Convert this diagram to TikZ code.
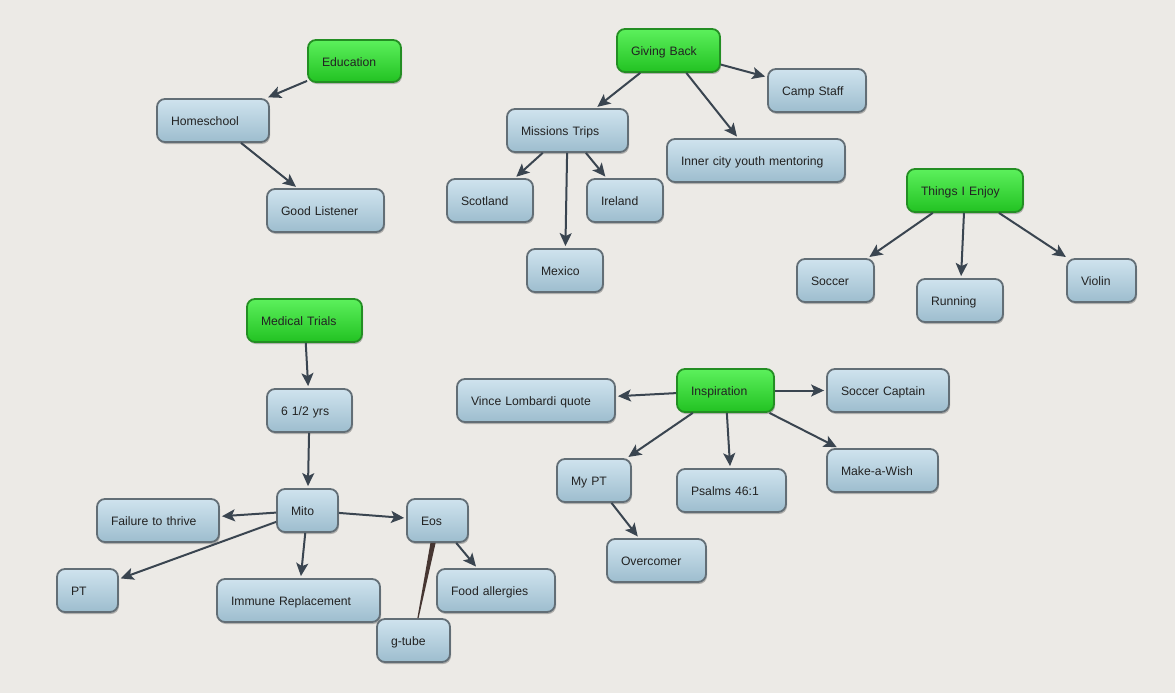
\documentclass[tikz,border=0pt]{standalone}
\usepackage{fontspec}
\setmainfont{Liberation Sans}
\usetikzlibrary{arrows.meta,shadows,calc}
\definecolor{bgcol}{HTML}{ECEAE6}
\definecolor{bluetop}{HTML}{CFE3EE}
\definecolor{bluebot}{HTML}{9DBDCE}
\definecolor{blueedge}{HTML}{626E76}
\definecolor{greentop}{HTML}{5CF05C}
\definecolor{greenbot}{HTML}{22C222}
\definecolor{greenedge}{HTML}{238E23}
\definecolor{arrcol}{HTML}{3A4550}
\definecolor{txtcol}{HTML}{222222}
\definecolor{tubecol}{HTML}{463632}
\tikzset{
  boxbase/.style={rectangle, rounded corners=8pt, line width=1.8pt, inner ysep=0pt,
    inner xsep=14pt, align=left, text=txtcol, text height=11pt, text depth=0.3pt,
    font=\fontsize{12.2}{14}\selectfont,
    drop shadow={shadow xshift=1pt, shadow yshift=-2pt, opacity=0.25, fill=black}},
  bluebox/.style={boxbase, draw=blueedge, top color=bluetop, bottom color=bluebot},
  greenbox/.style={boxbase, draw=greenedge, top color=greentop, bottom color=greenbot},
  arr/.style={draw=arrcol, line width=2pt, shorten >=2pt,
    -{Stealth[length=13pt,width=12pt,inset=3pt]}}
}
\newcommand\bx[7]{%
  \pgfmathsetmacro\boxtw{#4-#2-28}%
  \pgfmathsetmacro\boxcx{(#2+#4)/2}%
  \pgfmathsetmacro\boxcy{(#3+#5)/2}%
  \node[#6, minimum height={#5-#3}, text width=\boxtw pt] (#1) at (\boxcx,\boxcy) {#7};}
\begin{document}
\begin{tikzpicture}[x=1pt,y=-1pt]
\fill[bgcol] (0,0) rectangle (1175,693);
\useasboundingbox (0,0) rectangle (1175,693);
% Education
\bx{edu}{308}{40}{401}{82}{greenbox}{Education}
\bx{home}{157}{99}{269}{142}{bluebox}{Homeschool}
\bx{good}{267}{189}{384}{232}{bluebox}{Good Listener}
% Giving Back
\bx{give}{617}{29}{720}{72}{greenbox}{Giving Back}
\bx{camp}{768}{69}{866}{112}{bluebox}{Camp Staff}
\bx{miss}{507}{109}{628}{152}{bluebox}{Missions Trips}
\bx{inner}{667}{139}{845}{182}{bluebox}{Inner city youth mentoring}
\bx{scot}{447}{179}{533}{222}{bluebox}{Scotland}
\bx{irel}{587}{179}{663}{222}{bluebox}{Ireland}
\bx{mex}{527}{249}{603}{292}{bluebox}{Mexico}
% Things I Enjoy
\bx{enjoy}{907}{169}{1023}{212}{greenbox}{Things I Enjoy}
\bx{soccer}{797}{259}{874}{302}{bluebox}{Soccer}
\bx{run}{917}{279}{1003}{322}{bluebox}{Running}
\bx{violin}{1067}{259}{1136}{302}{bluebox}{Violin}
% Medical Trials
\bx{med}{247}{299}{362}{342}{greenbox}{Medical Trials}
\bx{yrs}{267}{389}{352}{432}{bluebox}{6 1/2 yrs}
\bx{mito}{277}{489}{338}{532}{bluebox}{Mito}
\bx{fail}{97}{499}{219}{542}{bluebox}{Failure to thrive}
\bx{eos}{407}{499}{468}{542}{bluebox}{Eos}
\bx{pt}{57}{569}{118}{612}{bluebox}{PT}
\bx{imm}{217}{579}{380}{622}{bluebox}{Immune Replacement}
\bx{food}{437}{569}{555}{612}{bluebox}{Food allergies}
\bx{gtube}{377}{619}{450}{662}{bluebox}{g-tube}
% Inspiration
\bx{insp}{677}{369}{774}{412}{greenbox}{Inspiration}
\bx{vince}{457}{379}{615}{422}{bluebox}{Vince Lombardi quote}
\bx{capt}{827}{369}{949}{412}{bluebox}{Soccer Captain}
\bx{mypt}{557}{459}{631}{502}{bluebox}{My PT}
\bx{psalm}{677}{469}{786}{512}{bluebox}{Psalms 46:1}
\bx{wish}{827}{449}{938}{492}{bluebox}{Make-a-Wish}
\bx{over}{607}{539}{706}{582}{bluebox}{Overcomer}
% connectors
\draw[arr] (edu) -- (home);
\draw[arr] (home) -- (good);
\draw[arr] (give) -- (miss);
\draw[arr] (give) -- (camp);
\draw[arr] (give) -- (inner);
\draw[arr] (miss) -- (scot);
\draw[arr] (miss) -- (irel);
\draw[arr] (miss) -- (mex);
\draw[arr] (enjoy) -- (soccer);
\draw[arr] (enjoy) -- (run);
\draw[arr] (enjoy) -- (violin);
\draw[arr] (med) -- (yrs);
\draw[arr] (yrs) -- (mito);
\draw[arr] (mito) -- (fail);
\draw[arr] (mito) -- (pt);
\draw[arr] (mito) -- (imm);
\draw[arr] (mito) -- (eos);
\draw[arr] (eos) -- (food);
\draw[arr] (insp) -- (vince);
\draw[arr] (insp) -- (capt);
\draw[arr] (insp) -- (mypt);
\draw[arr] (insp) -- (psalm);
\draw[arr] (insp) -- (wish);
\draw[arr] (mypt) -- (over);
% g-tube wedge
\path (eos) -- (gtube) coordinate[pos=0] (g1) coordinate[pos=1] (g2);
\fill[tubecol] ($(g1)+(-2.6,0)$) -- ($(g1)+(2.6,0)$) -- ($(g2)+(0.6,0)$) -- ($(g2)+(-0.6,0)$) -- cycle;
\end{tikzpicture}
\end{document}
